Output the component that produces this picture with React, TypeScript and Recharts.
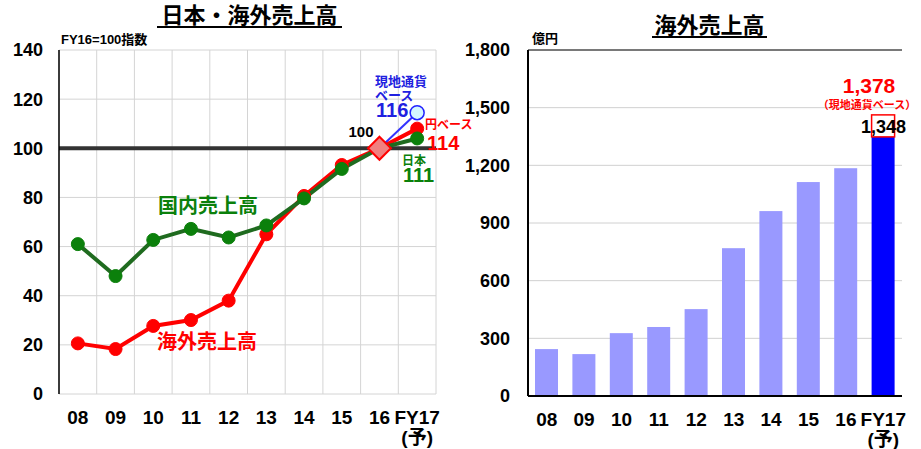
import { LineChart, Line, BarChart, Bar, Cell, XAxis, YAxis, CartesianGrid, ReferenceLine, ReferenceDot } from 'recharts'

const categories = ['08', '09', '10', '11', '12', '13', '14', '15', '16', 'FY17']
const subLabels: Record<string, string> = { FY17: '(予)' }

// FY16 = 100 index
const overseasIdx = [20.6, 18.3, 27.7, 30.1, 38, 65, 80.6, 93.2, 100, 108]
const domesticIdx = [61, 48, 62.7, 67.2, 63.7, 68.6, 79.6, 91.6, 100, 104]
const localCcyIdx = [null, null, null, null, null, null, null, null, 100, 114.5]
const indexTicks = [0, 20, 40, 60, 80, 100, 120, 140]

// 億円
const overseasSales = [244, 218, 327, 359, 452, 769, 962, 1113, 1185, 1348]
const salesTicks = [0, 300, 600, 900, 1200, 1500, 1800]

const NUM = '"Liberation Sans", Arial, sans-serif'
const JP = '"Liberation Sans", "Noto Sans CJK JP", sans-serif'
const GREEN_LINE = '#1f6b1f'
const GREEN_DOT = '#0b800b'

const idxRows = categories.map((c, i) => ({
  cat: c, overseas: overseasIdx[i], domestic: domesticIdx[i], local: localCcyIdx[i],
}))
const salesRows = categories.map((c, i) => ({ cat: c, sales: overseasSales[i] }))

function CatTick(props: any) {
  const { x, y, payload } = props
  const sub = subLabels[payload.value]
  return (
    <g>
      <text x={x} y={y} dy={30} textAnchor="middle" fontFamily={NUM} fontWeight={700} fontSize={19} fill="#000">{payload.value}</text>
      {sub && <text x={x} y={y} dy={50} textAnchor="middle" fontFamily={JP} fontWeight={700} fontSize={19} fill="#000">{sub}</text>}
    </g>
  )
}

const boundaries = ({ offset }: any) =>
  categories.map((_, i) => offset.left + (i * offset.width) / categories.length).concat(offset.left + offset.width)

function Diamond(props: any) {
  const { cx, cy } = props
  const r = 11.5
  return <polygon points={`${cx},${cy - r} ${cx + r},${cy} ${cx},${cy + r} ${cx - r},${cy}`} fill="#f08080" stroke="#ff0000" strokeWidth={2} />
}

function SalesBar(props: any) {
  const { x, y, width, height, fill, index } = props
  const last = index === categories.length - 1
  return (
    <g>
      <rect x={x} y={y} width={width} height={height} fill={fill} />
      {last && <rect x={x} y={y - 22} width={width} height={22} fill="none" stroke="#ff0000" strokeWidth={1.5} />}
    </g>
  )
}

const tickStyle = { fill: '#000', fontSize: 18, fontWeight: 700, fontFamily: NUM }

export default function App() {
  // half a category band on each side so points sit at band centres
  const half = (460 - 59 - 24) / categories.length / 2
  return (
    <div style={{ position: 'absolute', left: 0, top: 0, width: 921, height: 449, background: '#fff' }}>
      <div style={{ position: 'absolute', left: 0, top: 0 }}>
        <LineChart width={460} height={449} data={idxRows} margin={{ top: 50, right: 24, bottom: 0, left: 0 }}>
          <CartesianGrid stroke="#d4d4d4" verticalCoordinatesGenerator={boundaries} />
          <XAxis dataKey="cat" axisLine={false} tickLine={false} tickSize={0} tickMargin={0} height={55} interval={0}
            padding={{ left: half, right: half }} tick={<CatTick />} />
          <YAxis domain={[0, 140]} ticks={indexTicks} width={59} tickSize={0} tickMargin={16} tickLine={false}
            axisLine={{ stroke: '#000', strokeWidth: 1.5 }} tick={tickStyle} />
          <ReferenceLine y={100} stroke="#333" strokeWidth={4} />
          <Line dataKey="overseas" stroke="#ff0000" strokeWidth={4} isAnimationActive={false}
            dot={{ r: 6.5, fill: '#ff0000', stroke: '#ff0000', strokeWidth: 1 }} />
          <Line dataKey="domestic" stroke={GREEN_LINE} strokeWidth={4} isAnimationActive={false}
            dot={{ r: 6.5, fill: GREEN_DOT, stroke: GREEN_DOT, strokeWidth: 1 }} />
          <Line dataKey="local" stroke="#3333ff" strokeWidth={2} isAnimationActive={false} connectNulls={false}
            dot={{ r: 7, fill: '#d4f6ff', stroke: '#2222ff', strokeWidth: 1.5 }} />
          <ReferenceDot x="16" y={100} shape={<Diamond />} />
        </LineChart>
      </div>
      <div style={{ position: 'absolute', left: 460, top: 0 }}>
        <BarChart width={461} height={449} data={salesRows} margin={{ top: 50, right: 19, bottom: 0, left: 0 }}>
          <CartesianGrid stroke="#d0d0d0" vertical={false} />
          <XAxis dataKey="cat" axisLine={{ stroke: '#000', strokeWidth: 2 }} tickLine={false} tickSize={0} tickMargin={0}
            height={53} interval={0} tick={<CatTick />} />
          <YAxis domain={[0, 1800]} ticks={salesTicks} width={68} tickSize={0} tickMargin={18} tickLine={false}
            axisLine={{ stroke: '#000', strokeWidth: 2 }} tick={tickStyle}
            tickFormatter={(v: number) => v.toLocaleString('en-US')} />
          <YAxis yAxisId="frame" orientation="right" width={0} tick={false} tickLine={false}
            axisLine={{ stroke: '#555', strokeWidth: 2 }} />
          <ReferenceLine y={1800} stroke="#555" strokeWidth={1.5} />
          <Bar dataKey="sales" barSize={23} isAnimationActive={false} shape={<SalesBar />}>
            {salesRows.map((r, i) => (
              <Cell key={r.cat} fill={i === salesRows.length - 1 ? '#0000ff' : '#9999ff'} />
            ))}
          </Bar>
        </BarChart>
      </div>
      <svg width={921} height={449} style={{ position: 'absolute', left: 0, top: 0, pointerEvents: 'none' }}
        fontFamily={JP} fontWeight={700} dominantBaseline="central">
        {/* left panel */}
        <text x={249.5} y={15} fontSize={22} textAnchor="middle">日本・海外売上高</text>
        <line x1={157} x2={342} y1={27} y2={27} stroke="#000" strokeWidth={2} />
        <text x={61} y={39} fontSize={13}>FY16=100指数</text>
        <text x={158} y={206} fontSize={20} fill={GREEN_DOT}>国内売上高</text>
        <text x={157} y={342} fontSize={20} fill="#ff0000">海外売上高</text>
        <text x={361} y={131} fontSize={15} textAnchor="middle">100</text>
        <text x={375} y={81} fontSize={13} fill="#2020e0">現地通貨</text>
        <text x={375} y={95} fontSize={13} fill="#2020e0">ベース</text>
        <text x={376} y={110} fontSize={20} fill="#2020e0">116</text>
        <text x={425} y={125} fontSize={12} fill="#ff0000">円ベース</text>
        <text x={427} y={143} fontSize={20} fill="#ff0000">114</text>
        <text x={402} y={161} fontSize={12} fill={GREEN_DOT}>日本</text>
        <text x={403} y={175} fontSize={20} fill={GREEN_DOT}>111</text>
        {/* right panel */}
        <text x={709.5} y={25} fontSize={22} textAnchor="middle">海外売上高</text>
        <line x1={652} x2={767} y1={37} y2={37} stroke="#000" strokeWidth={2} />
        <text x={532} y={38} fontSize={13}>億円</text>
        <text x={869} y={85} fontSize={21} fill="#ff0000" textAnchor="middle">1,378</text>
        <text x={867} y={105} fontSize={11} fill="#ff0000" textAnchor="middle">（現地通貨ベース）</text>
        <text x={883.5} y={127} fontSize={18} textAnchor="middle">1,348</text>
      </svg>
    </div>
  )
}
